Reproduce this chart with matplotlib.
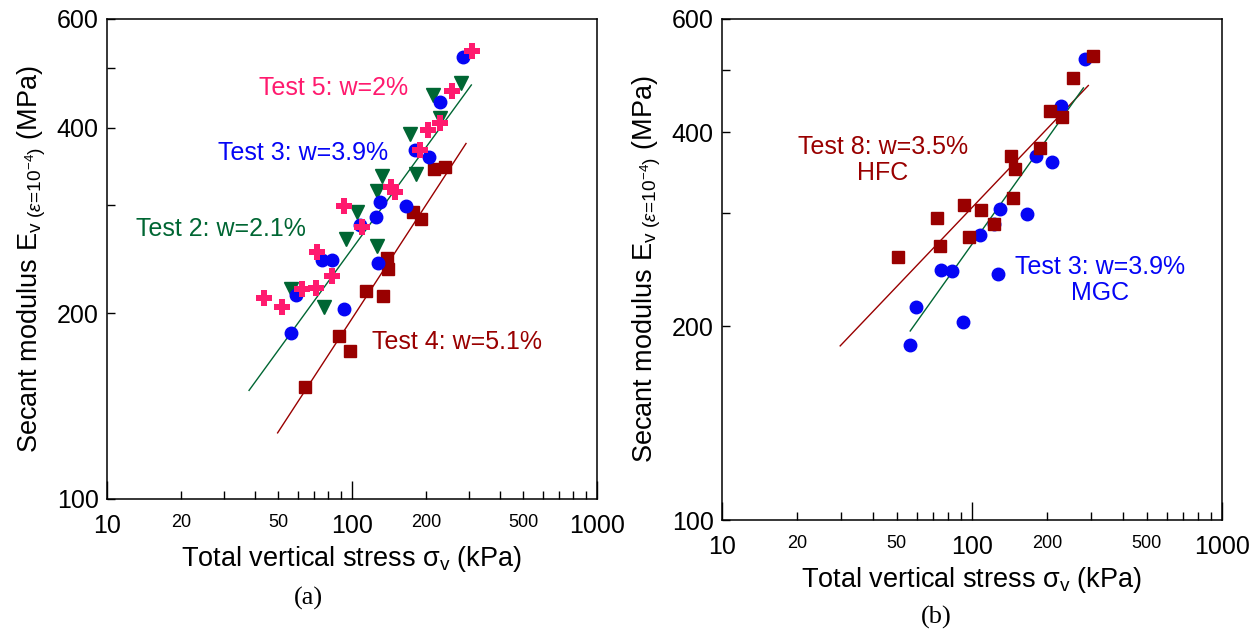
import numpy as np
import matplotlib
matplotlib.use("Agg")
import matplotlib.pyplot as plt
from matplotlib.ticker import FixedLocator, FixedFormatter, NullFormatter

plt.rcParams['font.family'] = ['Liberation Sans', 'DejaVu Sans']
plt.rcParams['mathtext.fontset'] = 'custom'
plt.rcParams['mathtext.rm'] = 'Liberation Sans'
plt.rcParams['mathtext.it'] = 'Liberation Sans:italic'
plt.rcParams['mathtext.bf'] = 'Liberation Sans:bold'

W, H = 1253, 630

# === colours ===
C_RED = "#990000"
C_BLUE = "#0505f5"
C_GREEN = "#006633"
C_PINK = "#ff1a6e"

# === Panel (a) data: sigma_v (kPa), E_v (MPa) ===
t4_x = [64, 88.5, 98, 114, 133.5, 138.6, 140, 178, 192, 217, 240]
t4_y = [152, 184, 174, 217, 213, 246, 236, 292, 284, 343, 345]

t2_x = [56.6, 76.9, 94.7, 104.8, 126.8, 126.5, 132, 172, 182, 214, 229, 278]
t2_y = [218.6, 205, 264, 292, 257, 316, 334, 390, 337, 451, 415, 472]

t3_x = [56.6, 59.2, 75.5, 83.2, 93, 108, 125, 129.6, 127.5, 166, 180, 207, 228, 284]
t3_y = [186, 214, 244, 244, 203, 278, 287, 303, 241, 299, 368, 359, 440, 520]

t5_x = [43.6, 51.6, 62.7, 71.6, 72, 83.2, 93, 109.6, 144, 150, 190, 203.5, 228, 256.5, 309]
t5_y = [212, 205, 218.6, 219.6, 251, 229.6, 299, 276, 320, 314, 368, 397, 407, 458, 533]

# fitted trend lines (end points)
fit2_x = [38, 307]
fit2_y = [150, 469]
fit4_x = [49.7, 292]
fit4_y = [128, 377]

# === Panel (b) data ===
t8_x = [50.7, 72.3, 74.8, 92.8, 97, 109, 122, 142.6, 149, 146, 187, 205, 229, 252.5, 306]
t8_y = [256, 294, 266, 308, 275, 303, 288, 367, 351, 316, 378, 432, 423, 485, 526]

t3b_x = [56.5, 59.6, 75.5, 83, 92, 107.7, 122, 130, 127.4, 166.7, 180, 208, 227, 282]
t3b_y = [187, 214.5, 244.7, 244, 203, 277.6, 288, 304, 241, 299, 367, 360, 440, 520]

fit8_x = [29.7, 292]
fit8_y = [186.4, 473]
fit3b_x = [56.6, 279]
fit3b_y = [196.6, 469]

x_major = [10, 100, 1000]
x_minor = [20, 30, 40, 50, 60, 70, 80, 90, 200, 300, 400, 500, 600, 700, 800, 900]
x_minor_lbl = ["20", "", "", "50", "", "", "", "", "200", "", "", "500", "", "", "", ""]
y_major = [100, 200, 400, 600]
y_minor = [300, 500]


def fxy(x, y):
    """pixel position (from top-left) -> figure fraction"""
    return x / W, 1 - y / H


def style_axes(ax):
    ax.set_xscale("log")
    ax.set_yscale("log")
    ax.set_xlim(10, 1000)
    ax.set_ylim(100, 600)
    ax.xaxis.set_major_locator(FixedLocator(x_major))
    ax.xaxis.set_major_formatter(FixedFormatter([str(v) for v in x_major]))
    ax.xaxis.set_minor_locator(FixedLocator(x_minor))
    ax.xaxis.set_minor_formatter(FixedFormatter(x_minor_lbl))
    ax.yaxis.set_major_locator(FixedLocator(y_major))
    ax.yaxis.set_major_formatter(FixedFormatter([str(v) for v in y_major]))
    ax.yaxis.set_minor_locator(FixedLocator(y_minor))
    ax.yaxis.set_minor_formatter(NullFormatter())
    ax.tick_params(axis="x", which="major", direction="in", length=13, width=1,
                   labelsize=18, pad=11, top=False)
    ax.tick_params(axis="x", which="minor", direction="in", length=6, width=1,
                   labelsize=13, pad=11, top=False)
    ax.tick_params(axis="y", which="both", direction="in", length=6, width=1,
                   labelsize=18, pad=6, right=False)
    for s in ax.spines.values():
        s.set_linewidth(1.1)
    ax.set_xlabel(r"Total vertical stress σ$_\mathrm{v}$ (kPa)", fontsize=19.5, labelpad=4)
    ax.set_ylabel(r"Secant modulus E$_{\mathrm{v}\ (\varepsilon\!=\!10^{-4})}$ (MPa)",
                  fontsize=19.5, labelpad=6)


fig = plt.figure(figsize=(W / 100, H / 100), dpi=100)
ax1 = fig.add_axes([107 / W, 131 / H, 490 / W, 480 / H])
ax2 = fig.add_axes([722 / W, 110 / H, 500 / W, 501 / H])

# --- panel (a) ---
ax1.plot(fit2_x, fit2_y, color=C_GREEN, lw=1)
ax1.plot(fit4_x, fit4_y, color=C_RED, lw=1)
ax1.plot(t4_x, t4_y, ls="none", marker="s", ms=9, color=C_RED)
ax1.plot(t2_x, t2_y, ls="none", marker="v", ms=10, color=C_GREEN)
ax1.plot(t3_x, t3_y, ls="none", marker="o", ms=9, color=C_BLUE)
ax1.plot(t5_x, t5_y, ls="none", marker="P", ms=11, color=C_PINK, mew=0)
style_axes(ax1)
fig.text(*fxy(334, 88), "Test 5: w=2%", fontsize=18, color=C_PINK, ha="center", va="center")
fig.text(*fxy(303, 153), "Test 3: w=3.9%", fontsize=18, color=C_BLUE, ha="center", va="center")
fig.text(*fxy(221, 229), "Test 2: w=2.1%", fontsize=18, color=C_GREEN, ha="center", va="center")
fig.text(*fxy(457, 342), "Test 4: w=5.1%", fontsize=18, color=C_RED, ha="center", va="center")

# --- panel (b) ---
ax2.plot(fit8_x, fit8_y, color=C_RED, lw=1)
ax2.plot(fit3b_x, fit3b_y, color=C_GREEN, lw=1)
ax2.plot(t3b_x, t3b_y, ls="none", marker="o", ms=9, color=C_BLUE)
ax2.plot(t8_x, t8_y, ls="none", marker="s", ms=9, color=C_RED)
style_axes(ax2)
fig.text(*fxy(883, 160), "Test 8: w=3.5%\nHFC", fontsize=18, color=C_RED,
         ha="center", va="center", linespacing=1.15)
fig.text(*fxy(1100, 280), "Test 3: w=3.9%\nMGC", fontsize=18, color=C_BLUE,
         ha="center", va="center", linespacing=1.15)

fig.text(*fxy(308, 598), "(a)", family="Liberation Serif", fontsize=19, ha="center", va="center")
fig.text(*fxy(936, 617), "(b)", family="Liberation Serif", fontsize=19, ha="center", va="center")

fig.savefig("out.png", dpi=100)
